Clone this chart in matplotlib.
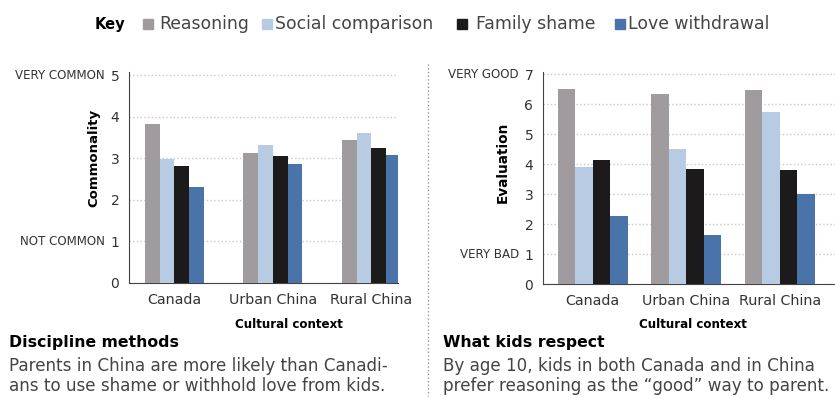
import matplotlib
matplotlib.use("Agg")
import matplotlib.pyplot as plt
import numpy as np
from matplotlib.patches import Rectangle
from matplotlib.lines import Line2D

plt.rcParams['font.family'] = ['DejaVu Sans']

contexts = ["Canada", "Urban China", "Rural China"]
methods = ["Reasoning", "Social comparison", "Family shame", "Love withdrawal"]
colors = ["#9f9b9e", "#b7cbe3", "#1c1a1b", "#4a73aa"]

# discipline methods: commonality (0-5)
commonality = {
    "Reasoning": [3.83, 3.14, 3.44],
    "Social comparison": [2.98, 3.33, 3.62],
    "Family shame": [2.81, 3.06, 3.25],
    "Love withdrawal": [2.30, 2.87, 3.09],
}
# what kids respect: evaluation (0-7)
evaluation = {
    "Reasoning": [6.52, 6.33, 6.47],
    "Social comparison": [3.92, 4.52, 5.75],
    "Family shame": [4.13, 3.85, 3.82],
    "Love withdrawal": [2.28, 1.65, 3.02],
}

fig = plt.figure(figsize=(8.35, 3.99), dpi=100)
W, H = 835, 399


def fx(px):
    return px / W


def fy(py):
    return 1 - py / H


def px_axes(x0, y0, x1, y1):
    return fig.add_axes([fx(x0), fy(y1), (x1 - x0) / W, (y1 - y0) / H])


def draw_panel(ax, data, ymax, top_lab, low_lab, width, xlim):
    x = np.arange(len(contexts))
    for i, m in enumerate(methods):
        ax.bar(x + (i - 1.5) * width, data[m], width, color=colors[i], zorder=3)
    ax.set_xlim(*xlim)
    ax.set_ylim(0, ymax + 0.08)
    ax.set_yticks(range(ymax + 1))
    ax.set_yticklabels([str(v) for v in range(ymax + 1)], fontsize=10, color="#333333")
    ax.set_xticks(x)
    ax.set_xticklabels(contexts, fontsize=10.3, color="#333333")
    ax.tick_params(length=0, pad=7)
    ax.tick_params(axis="x", pad=7)
    ax.yaxis.grid(True, linestyle=":", color="#c8c8c8", linewidth=1.0, zorder=0)
    for s in ["top", "right"]:
        ax.spines[s].set_visible(False)
    ax.spines["left"].set_color("#444444")
    ax.spines["bottom"].set_color("#444444")
    trans = ax.get_yaxis_transform()
    off = -24 / (ax.get_position().width * W)
    ax.text(off, ymax, top_lab, transform=trans, ha="right", va="center",
            fontsize=8.6, color="#333333")
    ax.text(off, 1, low_lab, transform=trans, ha="right", va="center",
            fontsize=8.6, color="#333333")


ax1 = px_axes(129, 72, 398, 283)
draw_panel(ax1, commonality, 5, "VERY COMMON", "NOT COMMON", 0.15, (-0.46, 2.27))
ax2 = px_axes(543, 72, 835, 284)
draw_panel(ax2, evaluation, 7, "VERY GOOD", "VERY BAD", 0.187, (-0.53, 2.59))

# axis titles
fig.text(fx(94), fy(158), "Commonality", rotation=90, fontsize=9.5, fontweight="bold",
         ha="center", va="center")
fig.text(fx(503), fy(162), "Evaluation", rotation=90, fontsize=9.8, fontweight="bold",
         ha="center", va="center")
fig.text(fx(289), fy(324), "Cultural context", fontsize=8.6, fontweight="bold",
         ha="center", va="center")
fig.text(fx(693), fy(324), "Cultural context", fontsize=8.6, fontweight="bold",
         ha="center", va="center")

# key
fig.text(fx(95), fy(24), "Key", fontsize=10.5, fontweight="bold", va="center")
key_sq = [143, 262, 457, 615]
key_tx = [159, 275, 476, 628]
for i, m in enumerate(methods):
    fig.add_artist(Rectangle((fx(key_sq[i]), fy(29)), 10 / W, 10 / H,
                             color=colors[i], transform=fig.transFigure))
    fig.text(fx(key_tx[i]), fy(24), m, fontsize=12.4, va="center", color="#444444")

# separator
fig.add_artist(Line2D([fx(428), fx(428)], [fy(64), fy(396)], transform=fig.transFigure,
                      linestyle=":", color="#999999", linewidth=1))

# captions
fig.text(fx(9), fy(343), "Discipline methods", fontsize=11.3, fontweight="bold", va="center")
fig.text(fx(9), fy(366), "Parents in China are more likely than Canadi-",
         fontsize=12.1, va="center", color="#444444")
fig.text(fx(9), fy(386), "ans to use shame or withhold love from kids.",
         fontsize=12.1, va="center", color="#444444")
fig.text(fx(443), fy(343), "What kids respect", fontsize=11.3, fontweight="bold", va="center")
fig.text(fx(443), fy(366), "By age 10, kids in both Canada and in China",
         fontsize=12.1, va="center", color="#444444")
fig.text(fx(443), fy(386), "prefer reasoning as the \u201cgood\u201d way to parent.",
         fontsize=12.1, va="center", color="#444444")

fig.savefig("out.png", dpi=100)
